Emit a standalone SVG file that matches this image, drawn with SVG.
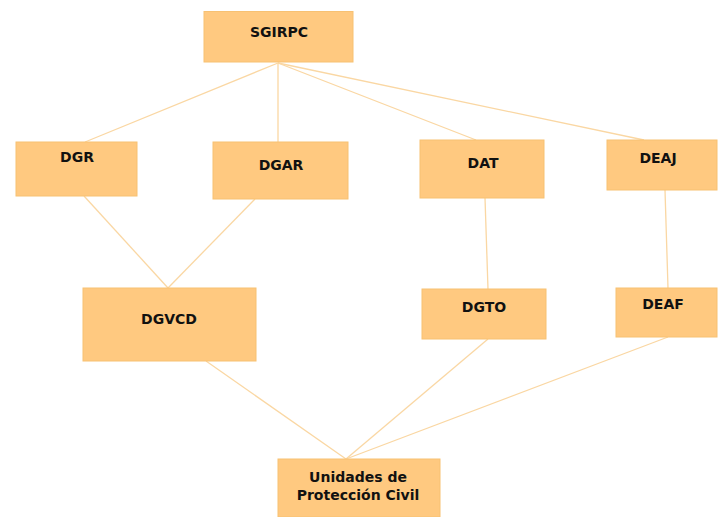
<svg xmlns="http://www.w3.org/2000/svg" width="718" height="517" viewBox="0 0 718 517">
<style>
.box{fill:#FFC980;stroke:#F7C173;stroke-width:1}
.lbl{font-family:"DejaVu Sans","Open Sans",sans-serif;font-weight:bold;font-size:14px;fill:#111;text-anchor:middle}
.conn line{stroke:#FAD7A3;stroke-width:1.3}
</style>
<rect width="718" height="517" fill="#fff"/>
<g class="conn" id="connectors">
<line x1="278" y1="63" x2="85" y2="142"/>
<line x1="278" y1="63" x2="278" y2="142"/>
<line x1="278" y1="63" x2="476" y2="140"/>
<line x1="278" y1="63" x2="644" y2="140"/>
<line x1="84" y1="196" x2="168" y2="288"/>
<line x1="255" y1="199" x2="168" y2="288"/>
<line x1="485" y1="198" x2="488" y2="289"/>
<line x1="665" y1="190" x2="668" y2="288"/>
<line x1="206" y1="361" x2="346" y2="459"/>
<line x1="488" y1="339" x2="346" y2="459"/>
<line x1="668" y1="337" x2="346" y2="459"/>
</g>
<g id="SGIRPC"><rect class="box" x="204" y="11.5" width="149" height="50.5"/><text class="lbl" x="279" y="37">SGIRPC</text></g>
<g id="DGR"><rect class="box" x="16" y="142" width="121" height="54"/><text class="lbl" x="77" y="162">DGR</text></g>
<g id="DGAR"><rect class="box" x="213" y="142" width="135" height="57"/><text class="lbl" x="281" y="170">DGAR</text></g>
<g id="DAT"><rect class="box" x="420" y="140" width="124" height="58"/><text class="lbl" x="483" y="168">DAT</text></g>
<g id="DEAJ"><rect class="box" x="607" y="140" width="110" height="50"/><text class="lbl" x="658" y="163">DEAJ</text></g>
<g id="DGVCD"><rect class="box" x="83" y="288" width="173" height="73"/><text class="lbl" x="169" y="324">DGVCD</text></g>
<g id="DGTO"><rect class="box" x="422" y="289" width="124" height="50"/><text class="lbl" x="484" y="312">DGTO</text></g>
<g id="DEAF"><rect class="box" x="616" y="288" width="101" height="49"/><text class="lbl" x="663" y="309">DEAF</text></g>
<g id="Unidades"><rect class="box" x="278" y="459" width="162" height="58"/><text class="lbl" x="358" y="482">Unidades de</text><text class="lbl" x="358" y="500">Protección Civil</text></g>
</svg>
